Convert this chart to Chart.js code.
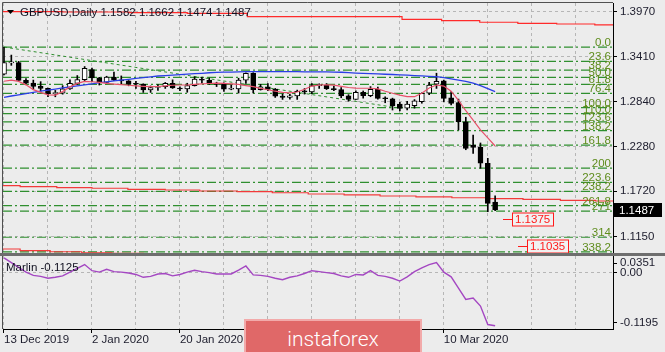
<!DOCTYPE html>
<html>
<head>
<meta charset="utf-8">
<script src="https://cdn.jsdelivr.net/npm/chart.js@4.4.1/dist/chart.umd.min.js"></script>
<style>
  html, body { margin: 0; padding: 0; background: #ececec; }
  #wrap { position: relative; width: 665px; height: 352px; overflow: hidden; background: #ececec; }
  #main { position: absolute; left: 0; top: 0; }
  #ind { position: absolute; left: 0; top: 256px; }
  #sep { position: absolute; left: 0; top: 253px; width: 665px; height: 3px; background: #6e6e6e; }
  #logo { position: absolute; left: 244px; top: 319px; width: 178px; height: 40px; box-sizing: border-box;
          background: #e06868; border: 2px solid #f2aaaa; color: #fff; text-align: center;
          font: 300 21px Roboto, "Open Sans", sans-serif; line-height: 36px; }
</style>
</head>
<body>
<div id="wrap">
  <canvas id="main" width="665" height="256"></canvas>
  <canvas id="ind" width="665" height="96"></canvas>
  <div id="sep"></div>
  <div id="logo">instaforex</div>
</div>
<script>
// ---- data ----
const symbol = 'GBPUSD,Daily';
const tickBars = [0, 12, 24, 36, 48, 60];
const tickLabels = ['13 Dec 2019', '2 Jan 2020', '20 Jan 2020', '5 Feb 2020', '21 Feb 2020', '10 Mar 2020'];
const gridBars = [0, 6, 12, 18, 24, 30, 36, 42, 48, 54, 60, 66, 72, 78];
const priceTicks = [1.3970, 1.3410, 1.2840, 1.2280, 1.1720, 1.1150];

const opens = [1.3190, 1.3330, 1.3334, 1.3112, 1.3076, 1.3035, 1.3010, 1.2945, 1.2950, 1.3004,
  1.3074, 1.3120, 1.3246, 1.3143, 1.3086, 1.3151, 1.3113, 1.3104, 1.3065, 1.3063,
  1.2992, 1.3022, 1.3033, 1.3073, 1.3015, 1.3003, 1.3046, 1.3126, 1.3113, 1.3075,
  1.3060, 1.3000, 1.3005, 1.3115, 1.3201, 1.2995, 1.3030, 1.2999, 1.2914, 1.2897,
  1.2916, 1.2975, 1.2966, 1.3045, 1.3048, 1.3006, 1.2994, 1.2917, 1.2873, 1.2962,
  1.2919, 1.3000, 1.2885, 1.2880, 1.2815, 1.2762, 1.2795, 1.2843, 1.2950, 1.3065,
  1.3107, 1.2893, 1.2831, 1.2592, 1.2299, 1.2270, 1.2070, 1.1582];
const highs = [1.3525, 1.3429, 1.3350, 1.3135, 1.3115, 1.3095, 1.3015, 1.2985, 1.3045, 1.3118,
  1.3172, 1.3285, 1.3267, 1.3149, 1.3163, 1.3215, 1.3167, 1.3109, 1.3098, 1.3068,
  1.3041, 1.3059, 1.3085, 1.3118, 1.3029, 1.3075, 1.3155, 1.3152, 1.3140, 1.3088,
  1.3079, 1.3055, 1.3138, 1.3206, 1.3208, 1.3061, 1.3072, 1.3010, 1.2940, 1.2937,
  1.2989, 1.3009, 1.3070, 1.3068, 1.3071, 1.3040, 1.3021, 1.2932, 1.2979, 1.2978,
  1.3033, 1.3026, 1.2905, 1.2888, 1.2836, 1.2848, 1.2870, 1.2955, 1.3087, 1.3201,
  1.3115, 1.2969, 1.2876, 1.2648, 1.2425, 1.2325, 1.2132, 1.1662];
const lows = [1.3180, 1.3300, 1.3110, 1.3070, 1.3000, 1.2975, 1.2905, 1.2905, 1.2938, 1.2998,
  1.3060, 1.3108, 1.3094, 1.3053, 1.3075, 1.3106, 1.3061, 1.3043, 1.3011, 1.2960,
  1.2960, 1.2986, 1.3010, 1.3010, 1.2983, 1.2962, 1.3040, 1.3077, 1.3060, 1.3033,
  1.2974, 1.2993, 1.2952, 1.3074, 1.2953, 1.2989, 1.2983, 1.2897, 1.2872, 1.2875,
  1.2872, 1.2939, 1.2945, 1.3010, 1.2996, 1.2981, 1.2893, 1.2849, 1.2871, 1.2888,
  1.2906, 1.2875, 1.2830, 1.2739, 1.2726, 1.2739, 1.2762, 1.2824, 1.2932, 1.3010,
  1.2841, 1.2802, 1.2488, 1.2240, 1.2195, 1.2007, 1.1462, 1.1474];
const closes = [1.3335, 1.3334, 1.3112, 1.3076, 1.3035, 1.3010, 1.2945, 1.2950, 1.3004, 1.3074,
  1.3120, 1.3261, 1.3143, 1.3085, 1.3151, 1.3113, 1.3104, 1.3065, 1.3063, 1.2992,
  1.3022, 1.3033, 1.3073, 1.3015, 1.3003, 1.3046, 1.3126, 1.3113, 1.3075, 1.3060,
  1.3000, 1.3005, 1.3115, 1.3201, 1.2995, 1.3030, 1.2999, 1.2914, 1.2897, 1.2916,
  1.2975, 1.2966, 1.3045, 1.3048, 1.3006, 1.2994, 1.2917, 1.2873, 1.2962, 1.2919,
  1.3000, 1.2885, 1.2880, 1.2790, 1.2760, 1.2815, 1.2855, 1.2950, 1.3053, 1.3100,
  1.2886, 1.2823, 1.2592, 1.2258, 1.2270, 1.2070, 1.1567, 1.1487];

const fastMA = [1.3100, 1.3114, 1.3098, 1.3055, 1.2995, 1.2960, 1.2930, 1.2927, 1.2970, 1.3030,
  1.3074, 1.3098, 1.3094, 1.3085, 1.3074, 1.3065, 1.3057, 1.3050, 1.3042, 1.3036,
  1.3032, 1.3034, 1.3042, 1.3050, 1.3053, 1.3053, 1.3060, 1.3068, 1.3072, 1.3076,
  1.3074, 1.3068, 1.3060, 1.3046, 1.3032, 1.3010, 1.2993, 1.2975, 1.2960, 1.2954,
  1.2965, 1.3000, 1.3040, 1.3053, 1.3055, 1.3052, 1.3036, 1.3022, 1.3013, 1.3012,
  1.3012, 1.3005, 1.2975, 1.2950, 1.2925, 1.2906, 1.2906, 1.2950, 1.3015, 1.3053,
  1.3040, 1.2975, 1.2860, 1.2730, 1.2613, 1.2490, 1.2390, 1.2287];
const slowMA = [1.2899, 1.2915, 1.2930, 1.2945, 1.2960, 1.2975, 1.2988, 1.3002, 1.3016, 1.3030,
  1.3042, 1.3055, 1.3068, 1.3082, 1.3093, 1.3104, 1.3115, 1.3125, 1.3136, 1.3146,
  1.3156, 1.3166, 1.3172, 1.3178, 1.3184, 1.3190, 1.3195, 1.3200, 1.3207, 1.3212,
  1.3214, 1.3216, 1.3218, 1.3220, 1.3220, 1.3221, 1.3221, 1.3221, 1.3220, 1.3220,
  1.3220, 1.3219, 1.3219, 1.3218, 1.3217, 1.3216, 1.3213, 1.3208, 1.3202, 1.3198,
  1.3195, 1.3192, 1.3188, 1.3185, 1.3181, 1.3177, 1.3172, 1.3167, 1.3162, 1.3157,
  1.3145, 1.3130, 1.3115, 1.3098, 1.3078, 1.3045, 1.3008, 1.2969];
const marlin = [0.031, 0.021, 0.011, 0.001, -0.006, -0.008, -0.012, -0.010, -0.007, 0.001,
  0.009, 0.017, 0.004, 0.001, 0.007, 0.002, 0.001, -0.001, -0.004, -0.010,
  -0.008, -0.003, -0.002, -0.007, -0.004, 0.001, 0.005, 0.002, 0.000, -0.003,
  -0.003, -0.003, 0.005, 0.014, -0.005, -0.006, -0.008, -0.012, -0.015, -0.010,
  -0.007, -0.002, 0.004, 0.002, 0.000, -0.002, -0.007, -0.010, -0.004, -0.005,
  0.004, -0.006, -0.008, -0.012, -0.018, -0.009, 0.002, 0.010, 0.017, 0.021,
  0.001, -0.009, -0.033, -0.057, -0.054, -0.071, -0.110, -0.1125];
const marlinTicks = ['0.0351', '0.00', '-0.1195'];

// stepped red lines (bar where the step starts, price)
const redTopBars = [-0.2, 8, 17, 25, 33.2, 54.3, 59.7, 64.9, 70.1, 75.4, 80.6, 83.2];
const redTopPrices = [1.3975, 1.3970, 1.3962, 1.3952, 1.3911, 1.3878, 1.3861, 1.3841, 1.3828, 1.3819, 1.3807, 1.3807];
const redMidBars = [-0.2, 2.2, 7.2, 12, 16.9, 22, 26.7, 31.8, 36.6, 41.5, 46.4, 51.3, 56.2, 61.1, 66, 70.8, 75.9, 80.7, 83.2];
const redMidPrices = [1.1788, 1.1776, 1.1763, 1.1756, 1.1743, 1.1734, 1.1722, 1.1713, 1.1700, 1.1684, 1.1672, 1.1659, 1.1648, 1.1637, 1.1627, 1.1617, 1.1603, 1.1596, 1.1596];
const redLowBars = [-0.2, 2.2, 6.3, 10.6, 14.7, 19, 30];
const redLowPrices = [1.0993, 1.0972, 1.0959, 1.0946, 1.0939, 1.0900, 1.0880];

const fibLevels = ['0.0', '23.6', '38.2', '50.0', '61.8', '76.4', '100.0', '110.0', '123.6', '138.2', '161.8', '200', '223.6', '238.2', '261.8', '271', '314', '338.2'];
const fibPrices = [1.3530, 1.3350, 1.3239, 1.3150, 1.3060, 1.2949, 1.2769, 1.2693, 1.2590, 1.2479, 1.2299, 1.2008, 1.1829, 1.1718, 1.1538, 1.1468, 1.1141, 1.0957];
const fibTrendBars = [0, 53.5];
const fibTrendPrices = [1.3530, 1.2769];

const markerPrices = [1.1375, 1.1035];
const markerBars = [68.1, 70.1];

// ---- look ----
const X_MIN = -0.136, X_MAX = 83.08;
const P_MIN = 1.0943, P_MAX = 1.4083;
const M_MIN = -0.1195, M_MAX = 0.0351;
const FAMILY = '"Liberation Sans", Arial, sans-serif';
const FONT = '11.5px ' + FAMILY;
const TXT = '#1c1c2c';
const GRID = '#b6b6b6';
const FIB = '#2f8f2f';

const bars = opens.map((o, i) => i);

const xGrid = {
  type: 'linear', min: X_MIN, max: X_MAX, offset: false,
  afterBuildTicks: s => { s.ticks = gridBars.map(v => ({ value: v })); }
};

function stepLine(xs, ys, color) {
  return {
    type: 'line', data: xs.map((x, k) => ({ x: x, y: ys[k] })),
    borderColor: color, borderWidth: 1.2, pointRadius: 0, stepped: true, order: 6
  };
}

const datasets = [];
fibPrices.forEach(p => datasets.push({
  type: 'line', data: [{ x: X_MIN, y: p }, { x: X_MAX, y: p }],
  borderColor: FIB, borderWidth: 1.2, borderDash: [9, 3, 2, 3], pointRadius: 0, order: 8
}));
datasets.push({
  type: 'line', data: fibTrendBars.map((x, k) => ({ x: x, y: fibTrendPrices[k] })),
  borderColor: FIB, borderWidth: 1, borderDash: [3, 3], pointRadius: 0, order: 7
});
datasets.push(stepLine(redTopBars, redTopPrices, '#ff2a2a'));
datasets.push(stepLine(redMidBars, redMidPrices, '#f23a3a'));
datasets.push(stepLine(redLowBars, redLowPrices, '#f23a3a'));
datasets.push({
  type: 'bar', grouped: false, barThickness: 1, order: 4,
  data: bars.map(i => ({ x: i, y: [lows[i], highs[i]] })),
  backgroundColor: '#000'
});
datasets.push({
  type: 'bar', grouped: false, barThickness: 5, order: 3, minBarLength: 1,
  data: bars.map(i => ({ x: i, y: [opens[i], closes[i]] })),
  backgroundColor: bars.map(i => closes[i] >= opens[i] ? '#ffffff' : '#000000'),
  borderColor: '#000', borderWidth: 1, borderSkipped: false
});
datasets.push({
  type: 'line', data: bars.map(i => ({ x: i, y: slowMA[i] })),
  borderColor: '#2b3ee6', borderWidth: 1.3, pointRadius: 0, order: 2
});
datasets.push({
  type: 'line', data: bars.map(i => ({ x: i, y: fastMA[i] })),
  borderColor: '#e8506a', borderWidth: 1.2, pointRadius: 0, order: 1
});

const mainDecor = {
  id: 'mainDecor',
  afterDatasetsDraw(chart) {
    const { ctx, chartArea: a, scales: { x, y } } = chart;
    ctx.save();
    ctx.beginPath();
    ctx.rect(a.left, a.top, a.right - a.left, a.bottom - a.top);
    ctx.clip();
    ctx.font = FONT;
    ctx.textAlign = 'right';
    ctx.textBaseline = 'alphabetic';
    ctx.fillStyle = '#5e8c1c';
    fibLevels.forEach((lv, k) => ctx.fillText(lv, a.right - 2, Math.round(y.getPixelForValue(fibPrices[k])) - 1));
    // price markers
    ctx.textAlign = 'left';
    ctx.textBaseline = 'middle';
    markerPrices.forEach((p, k) => {
      const py = Math.round(y.getPixelForValue(p)) + 0.5;
      const x0 = Math.round(x.getPixelForValue(markerBars[k]));
      const label = p.toFixed(4);
      const w = Math.ceil(ctx.measureText(label).width) + 5;
      ctx.strokeStyle = '#ff1a1a';
      ctx.lineWidth = 1;
      ctx.beginPath(); ctx.moveTo(x0, py); ctx.lineTo(x0 + 9, py); ctx.stroke();
      ctx.fillStyle = '#f1f1f1';
      ctx.fillRect(x0 + 9, py - 7, w, 14);
      ctx.strokeRect(x0 + 9.5, py - 6.5, w, 13);
      ctx.fillStyle = '#ff1a1a';
      ctx.fillText(label, x0 + 12, py + 0.5);
    });
    ctx.restore();
  },
  afterDraw(chart) {
    const { ctx, chartArea: a, scales: { y } } = chart;
    ctx.save();
    // left / top frame
    ctx.strokeStyle = '#505050';
    ctx.lineWidth = 1;
    ctx.beginPath(); ctx.moveTo(a.left - 0.5, a.bottom); ctx.lineTo(a.left - 0.5, a.top - 0.5); ctx.lineTo(a.right, a.top - 0.5); ctx.stroke();
    // title
    ctx.fillStyle = '#000';
    ctx.beginPath(); ctx.moveTo(7, 10); ctx.lineTo(14, 10); ctx.lineTo(10.5, 14); ctx.closePath(); ctx.fill();
    const last = closes.length - 1;
    ctx.font = FONT;
    ctx.fillStyle = '#101020';
    ctx.textAlign = 'left';
    ctx.textBaseline = 'alphabetic';
    ctx.fillText(symbol + ' ' + [opens[last], highs[last], lows[last], closes[last]].map(v => v.toFixed(4)).join(' '), 20, 16);
    // current price on the axis
    const py = Math.round(y.getPixelForValue(closes[last]));
    ctx.fillStyle = '#000';
    ctx.fillRect(a.right + 1, py - 7, 48, 14);
    ctx.fillStyle = '#fff';
    ctx.textBaseline = 'middle';
    ctx.fillText(closes[last].toFixed(4), a.right + 6, py + 0.5);
    ctx.restore();
  }
};

new Chart(document.getElementById('main'), {
  type: 'bar',
  data: { datasets: datasets },
  options: {
    responsive: false, animation: false,
    layout: { padding: { left: 3, top: 3, right: 0, bottom: 3 } },
    plugins: { legend: { display: false }, tooltip: { enabled: false } },
    scales: {
      x: Object.assign({}, xGrid, {
        afterFit: s => { s.height = 0; s.paddingLeft = 0; s.paddingRight = 0; },
        ticks: { display: false },
        grid: { color: GRID, offset: false, drawTicks: false },
        border: { display: false, dash: [3, 3] }
      }),
      y: {
        position: 'right', min: P_MIN, max: P_MAX,
        afterBuildTicks: s => { s.ticks = priceTicks.map(v => ({ value: v })); },
        afterFit: s => { s.width = 52; s.paddingTop = 0; s.paddingBottom = 0; },
        ticks: { callback: v => v.toFixed(4), font: { family: FAMILY, size: 11.5 }, color: TXT, padding: 3 },
        grid: { color: GRID, tickColor: '#000', tickLength: 4 },
        border: { display: true, color: '#000', dash: [3, 3] }
      }
    }
  },
  plugins: [mainDecor]
});

// ---- indicator pane ----
const PANE_H = 73;
const mStep = (M_MAX - M_MIN) / PANE_H;
const indDecor = {
  id: 'indDecor',
  afterDraw(chart) {
    const { ctx, chartArea: a } = chart;
    ctx.save();
    ctx.strokeStyle = '#505050';
    ctx.lineWidth = 1;
    ctx.beginPath(); ctx.moveTo(a.left - 0.5, a.bottom); ctx.lineTo(a.left - 0.5, 0); ctx.stroke();
    ctx.font = FONT;
    ctx.fillStyle = '#101020';
    ctx.textAlign = 'left';
    ctx.textBaseline = 'alphabetic';
    ctx.fillText('Marlin ' + marlin[marlin.length - 1].toFixed(4), 6, 15);
    ctx.restore();
  }
};

new Chart(document.getElementById('ind'), {
  type: 'line',
  data: {
    datasets: [{
      data: bars.map(i => ({ x: i, y: marlin[i] })),
      borderColor: '#a447c2', borderWidth: 1.4, pointRadius: 0
    }]
  },
  options: {
    responsive: false, animation: false,
    layout: { padding: { left: 3, top: 0, right: 0, bottom: 0 } },
    plugins: { legend: { display: false }, tooltip: { enabled: false } },
    scales: {
      x: Object.assign({}, xGrid, {
        afterFit: s => { s.height = 23; s.paddingLeft = 0; s.paddingRight = 0; },
        ticks: {
          autoSkip: false, maxRotation: 0, align: 'start', padding: 0,
          font: { family: FAMILY, size: 11.5 }, color: TXT,
          callback: v => { const k = tickBars.indexOf(v); return k < 0 ? '' : tickLabels[k]; }
        },
        grid: {
          color: GRID, offset: false, tickLength: 4,
          tickColor: c => tickBars.indexOf(c.tick.value) < 0 ? 'rgba(0,0,0,0)' : '#000'
        },
        border: { display: true, color: '#000', dash: [3, 3] }
      }),
      y: {
        position: 'right', min: M_MIN, max: M_MAX,
        afterBuildTicks: s => {
          s.ticks = [{ value: M_MAX - 7 * mStep }, { value: 0 }, { value: M_MIN + 6.5 * mStep }];
        },
        afterFit: s => { s.width = 52; s.paddingTop = 0; s.paddingBottom = 0; },
        ticks: { callback: (v, k) => marlinTicks[k], font: { family: FAMILY, size: 11.5 }, color: TXT, padding: 3 },
        grid: { color: c => c.tick.value === 0 ? GRID : 'rgba(0,0,0,0)', tickColor: '#000', tickLength: 4 },
        border: { display: true, color: '#000', dash: [3, 3] }
      }
    }
  },
  plugins: [indDecor]
});
</script>
</body>
</html>
